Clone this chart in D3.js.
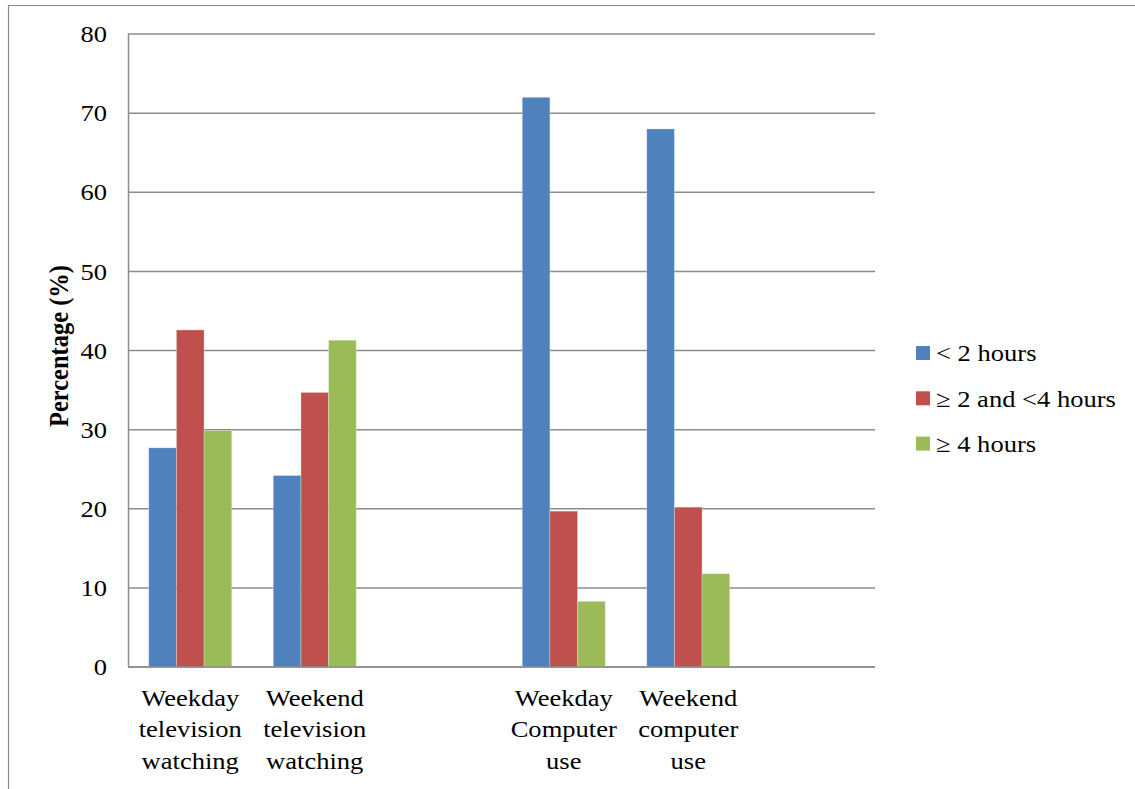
<!DOCTYPE html>
<html>
<head>
<meta charset="utf-8">
<script src="https://cdn.jsdelivr.net/npm/d3@7"></script>
<style>
  body { margin: 0; background: #fff; }
</style>
</head>
<body>
<script>
"use strict";
// categories (two empty slots as in the original chart)
let categories = [
  ["Weekday", "television", "watching"],
  ["Weekend", "television", "watching"],
  [],
  ["Weekday", "Computer", "use"],
  ["Weekend", "computer", "use"],
  []
]
let seriesNames = ["< 2 hours", "\u2265 2 and <4 hours", "\u2265 4 hours"]
let under2 = [27.7, 24.2, null, 72.0, 68.0, null]
let from2to4 = [42.6, 34.7, null, 19.7, 20.2, null]
let over4 = [29.9, 41.3, null, 8.3, 11.8, null]
let yTicks = [0, 10, 20, 30, 40, 50, 60, 70, 80]
let colors = ["#4F81BD", "#C0504D", "#9BBB59"]

let series = [under2, from2to4, over4]
const FONT = "'Liberation Serif', 'Times New Roman', serif"
const SX = 1.13   // the source picture is slightly wider than tall

let svg = d3.select("body")
            .append("svg")
            .attr("width", 1135)
            .attr("height", 789)
            .attr("font-family", FONT)

// outer frame
svg.append("path")
   .attr("d", "M8.5,789 V5.5 H1135")
   .attr("fill", "none")
   .attr("stroke", "#888")
   .attr("stroke-width", 1.2)

let plotLeft = 128, plotRight = 875, plotTop = 34, plotBottom = 667

let x = d3.scaleBand()
          .domain(d3.range(categories.length))
          .range([plotLeft, plotRight])
          .paddingInner(1 / 3)
          .paddingOuter(1 / 6)

let xSub = d3.scaleBand()
             .domain(d3.range(series.length))
             .range([0, x.bandwidth()])

let y = d3.scaleLinear()
          .domain([0, 80])
          .range([plotBottom, plotTop])

// gridlines
svg.append("g")
   .selectAll("line")
   .data(yTicks)
   .enter()
   .append("line")
   .attr("x1", plotLeft)
   .attr("x2", plotRight)
   .attr("y1", d => y(d))
   .attr("y2", d => y(d))
   .attr("stroke", "#8c8c8c")
   .attr("stroke-width", 1.5)

// bars
let groups = svg.append("g")
series.forEach((vals, si) => {
  groups.append("g")
        .selectAll("rect")
        .data(vals.map((v, i) => ({ i: i, v: v })).filter(d => d.v != null))
        .enter()
        .append("rect")
        .attr("x", d => x(d.i) + xSub(si))
        .attr("width", xSub.bandwidth())
        .attr("y", d => y(d.v))
        .attr("height", d => y(0) - y(d.v))
        .attr("fill", colors[si])
        .attr("stroke", "rgba(255,255,255,0.35)")
        .attr("stroke-width", 0.8)
})

// axes lines
svg.append("line")
   .attr("x1", plotLeft + 0.5).attr("x2", plotLeft + 0.5)
   .attr("y1", plotTop).attr("y2", plotBottom)
   .attr("stroke", "#8c8c8c").attr("stroke-width", 1.5)
svg.append("line")
   .attr("x1", plotLeft).attr("x2", plotRight)
   .attr("y1", plotBottom).attr("y2", plotBottom)
   .attr("stroke", "#8c8c8c").attr("stroke-width", 1.5)

// y tick labels
svg.append("g")
   .selectAll("text")
   .data(yTicks)
   .enter()
   .append("text")
   .attr("transform", d => "translate(107," + y(d) + ") scale(" + SX + ",1)")
   .attr("dy", "0.35em")
   .attr("text-anchor", "end")
   .attr("font-size", 23.5)
   .text(d => d)

// y axis title
svg.append("text")
   .attr("transform", "translate(68,346) rotate(-90) scale(1," + SX + ")")
   .attr("text-anchor", "middle")
   .attr("font-size", 24.5)
   .attr("font-weight", "bold")
   .text("Percentage (%)")

// x labels
let xl = svg.append("g")
            .selectAll("text")
            .data(categories.map((c, i) => ({ i: i, lines: c })))
            .enter()
            .append("text")
            .attr("transform", d => "translate(" + (x(d.i) + x.bandwidth() / 2) + ",706) scale(" + SX + ",1)")
            .attr("text-anchor", "middle")
            .attr("font-size", 23.5)
xl.selectAll("tspan")
  .data(d => d.lines)
  .enter()
  .append("tspan")
  .attr("x", 0)
  .attr("y", (d, j) => j * 31.5)
  .text(d => d)

// legend
let legend = svg.append("g")
                .selectAll("g")
                .data(seriesNames)
                .enter()
                .append("g")
                .attr("transform", (d, i) => "translate(916," + (353 + i * 45.3) + ")")
legend.append("rect")
      .attr("x", 0)
      .attr("y", -7)
      .attr("width", 14)
      .attr("height", 14)
      .attr("fill", (d, i) => colors[i])
legend.append("text")
      .attr("transform", "translate(20,0) scale(" + SX + ",1)")
      .attr("dy", "0.35em")
      .attr("font-size", 23.5)
      .text(d => d)
</script>
</body>
</html>
